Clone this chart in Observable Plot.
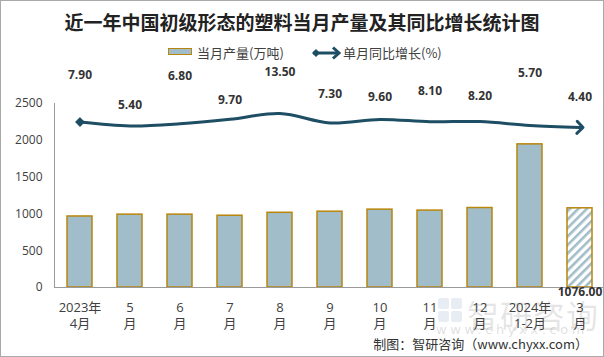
<!DOCTYPE html>
<html>
<head>
<meta charset="utf-8">
<script src="https://cdn.jsdelivr.net/npm/d3@7"></script>
<script src="https://cdn.jsdelivr.net/npm/@observablehq/plot@0.6"></script>
<style>
  html, body { margin: 0; padding: 0; background: #fff; }
  #wrap { position: relative; width: 604px; height: 357px; overflow: hidden; font-family: "Noto Sans CJK SC", sans-serif; background: #fff; }
  #border { position: absolute; left: 0; top: 0; width: 604px; height: 357px; box-sizing: border-box; border: 1px solid #a9a9a9; pointer-events: none; z-index: 5; }
  #title { height: 42px; line-height: 44px; text-align: center; font-size: 19px; font-weight: bold; color: #222; white-space: nowrap; }
  #legend { position: relative; height: 22px; font-size: 13px; color: #404040; }
  .lg { position: absolute; top: 0; line-height: 22px; white-space: nowrap; }
  #chart svg { display: block; }
  #caption { position: absolute; right: 16px; top: 334px; font-size: 13px; color: #333; white-space: nowrap; z-index: 3; }
  #wm { position: absolute; left: 467px; top: 291px; font-size: 32px; color: rgba(140,140,140,0.22); letter-spacing: 1px; white-space: nowrap; z-index: 0; }
  #wm2 { position: absolute; left: 436px; top: 322px; font-size: 13px; color: rgba(140,140,140,0.28); letter-spacing: 3.6px; white-space: nowrap; z-index: 0; font-family: "DejaVu Sans", sans-serif; }
  #wmicon { position: absolute; left: 437px; top: 297px; z-index: 0; }
</style>
</head>
<body>
<div id="wrap">
  <div id="title">近一年中国初级形态的塑料当月产量及其同比增长统计图</div>
  <div id="legend">
    <div class="lg" style="left:168px;top:6px;width:22px;height:5px;border:1.5px solid #B8860B;background:#A0BDC9;"></div>
    <div class="lg" style="left:197px;">当月产量(万吨)</div>
    <svg class="lg" style="left:310px;top:2px;" width="32" height="18" viewBox="0 0 32 18">
      <path d="M3,9 L28,9" stroke="#1D4E63" stroke-width="3" fill="none"/>
      <path d="M2,9 L6,5 L10,9 L6,13 Z" fill="#1D4E63"/>
      <path d="M23,3.5 L29,9 L23,14.5" stroke="#1D4E63" stroke-width="3" fill="none"/>
    </svg>
    <div class="lg" style="left:343px;">单月同比增长(%)</div>
  </div>
  <svg id="wmicon" width="26" height="26" viewBox="0 0 26 26">
    <rect x="1" y="1" width="11" height="11" rx="2" fill="rgba(150,175,205,0.22)"/>
    <rect x="14" y="1" width="11" height="11" rx="2" fill="rgba(150,175,205,0.22)"/>
    <rect x="1" y="14" width="11" height="11" rx="2" fill="rgba(150,175,205,0.22)"/>
    <rect x="14" y="14" width="11" height="11" rx="2" fill="rgba(150,175,205,0.22)"/>
  </svg>
  <div id="wm">智研咨询</div>
  <div id="wm2">www.chyxx.com</div>
  <div id="chart" style="position:relative;z-index:1;"></div>
  <div id="caption">制图：智研咨询（www.chyxx.com）</div>
  <div id="border"></div>
</div>
<script>
// ---- data ----
const months = ["2023年\n4月", "5\n月", "6\n月", "7\n月", "8\n月", "9\n月", "10\n月", "11\n月", "12\n月", "2024年\n1-2月", "3\n月"];
const output = [965, 990, 990, 975, 1015, 1030, 1058, 1045, 1080, 1945, 1076];
const growth = [7.9, 5.4, 6.8, 9.7, 13.5, 7.3, 9.6, 8.1, 8.2, 5.7, 4.4];
const yTicks = [0, 500, 1000, 1500, 2000, 2500];
// secondary (hidden) axis domain for growth rate, mapped onto the primary axis
const growthDomain = [-100, 20];
const yDomain = [0, 2500];

// ---- build ----
const lastIndex = months.length - 1;
const data = months.map((m, i) => ({ month: m, output: output[i], growth: growth[i], i }));
const toPrimary = d3.scaleLinear().domain(growthDomain).range(yDomain);
const gy = d => toPrimary(d.growth);

// label vertical offsets (style only, to mimic the staggered label placement)
const labelDy = [-47, -21, -48, -19, -41, -29, -22, -31, -25, -52, -30];

const lineColor = "#1D4E63";
const barFill = "#A0BDC9";
const barStroke = "#B8860B";

const chart = Plot.plot({
  width: 604,
  height: 270,
  marginTop: 39,
  marginBottom: 47,
  marginLeft: 54,
  marginRight: 0,
  x: { domain: months, paddingInner: 0.5, paddingOuter: 0.25, label: null },
  y: { domain: yDomain, label: null },
  style: { fontFamily: '"Open Sans","Noto Sans CJK SC",sans-serif', fontSize: "12px", color: "#404040", background: "transparent", overflow: "visible" },
  marks: [
    Plot.axisY({ ticks: yTicks, tickFormat: d => String(d), tickSize: 0, tickPadding: 12, label: null, fontSize: 12 }),
    Plot.axisX({ tickSize: 0, tickPadding: 12, label: null, fontSize: 13, lineHeight: 1.3 }),
    Plot.barY(data.filter(d => d.i !== lastIndex), { x: "month", y: "output", fill: barFill, stroke: barStroke, strokeWidth: 1.5 }),
    Plot.barY(data.filter(d => d.i === lastIndex), { x: "month", y: "output", fill: "url(#hatch)", stroke: barStroke, strokeWidth: 1.5 }),
    Plot.ruleY([0], { stroke: "#9a9a9a", strokeWidth: 1 }),
    Plot.frame({ anchor: "left", stroke: "#9a9a9a" }),
    Plot.line(data, { x: "month", y: gy, stroke: lineColor, strokeWidth: 3, curve: "catmull-rom", markerEnd: "arrow" }),
    Plot.dot(data.filter(d => d.i === 0), { x: "month", y: gy, symbol: "diamond2", fill: lineColor, stroke: lineColor, r: 3.5 }),
    ...data.map(d => Plot.text([d], { x: "month", y: gy, text: v => v.growth.toFixed(2), dy: labelDy[d.i], fontWeight: "bold", fontSize: 12, fill: "#333" })),
    Plot.text(data.filter(d => d.i === lastIndex), { x: "month", y: 0, text: d => d.output.toFixed(2), dy: 5, fontWeight: "bold", fontSize: 12, fill: "#333" })
  ]
});

const ns = "http://www.w3.org/2000/svg";
const defs = document.createElementNS(ns, "defs");
defs.innerHTML = '<pattern id="hatch" patternUnits="userSpaceOnUse" width="6" height="6" patternTransform="rotate(45)">' +
  '<rect width="6" height="6" fill="#fff"/><rect width="2.6" height="6" fill="' + barFill + '"/></pattern>';
chart.insertBefore(defs, chart.firstChild);
document.getElementById("chart").appendChild(chart);
</script>
</body>
</html>
